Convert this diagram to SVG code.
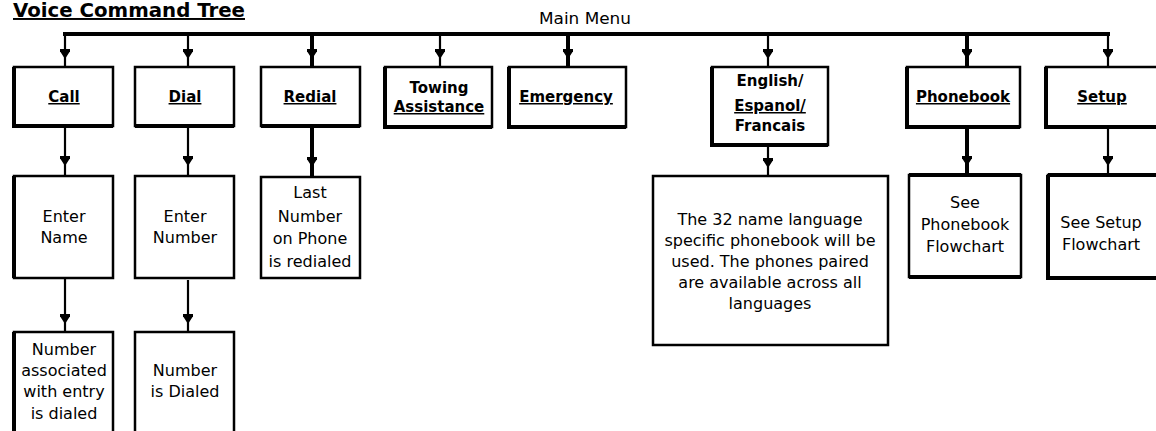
<svg xmlns="http://www.w3.org/2000/svg" width="1156" height="431" viewBox="0 0 1156 431">
<style>
text{font-family:"DejaVu Sans","Liberation Sans",sans-serif;fill:#000}
.t{font-size:15px;font-weight:bold;text-anchor:middle}
.u{text-decoration:underline}
.b{font-size:16px;text-anchor:middle}
.bx{fill:#fff;stroke:#000;stroke-width:2.5}
.sh{fill:none;stroke:#000;stroke-width:4}
.c{fill:none;stroke:#000;stroke-width:2.2;marker-mid:url(#ah)}
.ct{fill:none;stroke:#000;stroke-width:4;marker-mid:url(#ah)}
</style>
<defs>
<marker id="ah" viewBox="-11 -6 12 12" refX="0" refY="0" markerWidth="12" markerHeight="12" markerUnits="userSpaceOnUse" orient="auto">
<path d="M-10,-5 L-7,-5 L-7,-4.5 L0,0 L-7,4.5 L-7,5 L-10,5 Z" fill="#000"/>
</marker>
</defs>
<rect width="1156" height="431" fill="#fff"/>
<text x="13" y="17" font-size="19.5" font-weight="bold" text-decoration="underline" textLength="232" lengthAdjust="spacingAndGlyphs">Voice Command Tree</text>
<text x="585" y="24" font-size="15.5" text-anchor="middle" textLength="92" lengthAdjust="spacingAndGlyphs">Main Menu</text>

<g id="connectors">
<line x1="63" y1="34" x2="1110" y2="34" stroke="#000" stroke-width="4"/>
<path class="c" d="M65,34 L65,59 L65,67"/>
<path class="c" d="M188,34 L188,59 L188,67"/>
<path class="ct" d="M312,34 L312,59 L312,67"/>
<path class="c" d="M440,34 L440,59 L440,67"/>
<path class="ct" d="M568,34 L568,59 L568,67"/>
<path class="c" d="M768,34 L768,59 L768,67"/>
<path class="ct" d="M967,34 L967,59 L967,67"/>
<path class="c" d="M1108,34 L1108,59 L1108,67"/>
<path class="c" d="M65,126 L65,166 L65,176"/>
<path class="c" d="M188,126 L188,166 L188,176"/>
<path class="ct" d="M312,126 L312,167 L312,177"/>
<path class="c" d="M768,145 L768,168 L768,176"/>
<path class="ct" d="M967,127 L967,166 L967,175"/>
<path class="c" d="M1108,127 L1108,166 L1108,175"/>
<path class="c" d="M65,278 L65,324 L65,332"/>
<path class="c" d="M188,280 L188,324 L188,332"/>
</g>

<g id="call">
<rect class="bx" x="14" y="67" width="99" height="59"/>
<path class="sh" d="M14,67 V126 H113"/>
<text class="t u" x="64" y="102">Call</text>
</g>
<g id="dial">
<rect class="bx" x="135" y="67" width="99" height="59"/>
<path class="sh" d="M135,126 H234"/>
<text class="t u" x="185" y="102">Dial</text>
</g>
<g id="redial">
<rect class="bx" x="261" y="67" width="99" height="59"/>
<path class="sh" d="M261,126 H360"/>
<text class="t u" x="310" y="102">Redial</text>
</g>
<g id="towing">
<rect class="bx" x="385" y="67" width="107" height="60"/>
<path class="sh" d="M385,67 V127 H492"/>
<text class="t" x="439" y="93">Towing</text>
<text class="t u" x="439" y="112">Assistance</text>
</g>
<g id="emergency">
<rect class="bx" x="509" y="67" width="117" height="60"/>
<path class="sh" d="M509,67 V127 H626"/>
<text class="t u" x="566" y="102">Emergency</text>
</g>
<g id="language">
<rect class="bx" x="712" y="67" width="116" height="78"/>
<path class="sh" d="M712,67 V145 H828"/>
<text class="t" x="770" y="86">English/</text>
<text class="t u" x="770" y="111">Espanol/</text>
<text class="t" x="770" y="131">Francais</text>
</g>
<g id="phonebook">
<rect class="bx" x="907" y="67" width="113" height="60"/>
<path class="sh" d="M907,67 V127 H1020"/>
<text class="t u" x="963" y="102">Phonebook</text>
</g>
<g id="setup">
<rect class="bx" x="1046" y="67" width="120" height="60"/>
<path class="sh" d="M1046,67 V127 H1160"/>
<text class="t u" x="1102" y="102">Setup</text>
</g>

<g id="enter-name">
<rect class="bx" x="14" y="176" width="99" height="102"/>
<path class="sh" d="M14,176 V278"/>
<text class="b" x="64" y="222">Enter</text>
<text class="b" x="64" y="243">Name</text>
</g>
<g id="enter-number">
<rect class="bx" x="135" y="176" width="99" height="102"/>
<text class="b" x="185" y="222">Enter</text>
<text class="b" x="185" y="243">Number</text>
</g>
<g id="last-number">
<rect class="bx" x="261" y="177" width="99" height="101"/>
<text class="b" x="310" y="198">Last</text>
<text class="b" x="310" y="222">Number</text>
<text class="b" x="310" y="244">on Phone</text>
<text class="b" x="310" y="267">is redialed</text>
</g>
<g id="language-note">
<rect class="bx" x="653" y="176" width="235" height="169"/>
<text class="b" x="770" y="225">The 32 name language</text>
<text class="b" x="770" y="246">specific phonebook will be</text>
<text class="b" x="770" y="267">used. The phones paired</text>
<text class="b" x="770" y="288">are available across all</text>
<text class="b" x="770" y="309">languages</text>
</g>
<g id="see-phonebook">
<rect class="bx" x="909" y="175" width="112" height="102"/>
<path class="sh" d="M909,175 H1021 M909,277 H1021"/>
<text class="b" x="965" y="208">See</text>
<text class="b" x="965" y="230">Phonebook</text>
<text class="b" x="965" y="252">Flowchart</text>
</g>
<g id="see-setup">
<rect class="bx" x="1048" y="175" width="120" height="103"/>
<path class="sh" d="M1048,175 V278 H1160 M1048,175 H1160"/>
<text class="b" x="1101" y="228">See Setup</text>
<text class="b" x="1101" y="250">Flowchart</text>
</g>

<g id="number-associated">
<rect class="bx" x="14" y="332" width="99" height="110"/>
<path class="sh" d="M14,332 V440"/>
<text class="b" x="64" y="355">Number</text>
<text class="b" x="64" y="376">associated</text>
<text class="b" x="64" y="397">with entry</text>
<text class="b" x="64" y="419">is dialed</text>
</g>
<g id="number-dialed">
<rect class="bx" x="135" y="332" width="99" height="110"/>
<text class="b" x="185" y="376">Number</text>
<text class="b" x="185" y="397">is Dialed</text>
</g>
</svg>
